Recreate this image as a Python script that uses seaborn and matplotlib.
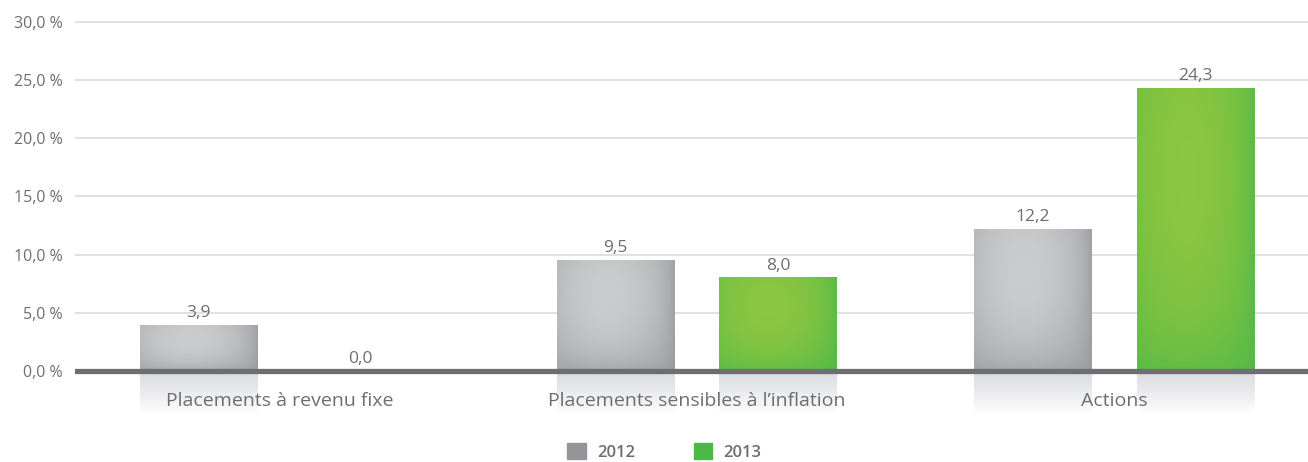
import numpy as np
import pandas as pd
import seaborn as sns
import matplotlib.pyplot as plt
from matplotlib.patches import Patch
from matplotlib.colors import to_rgb

# data
categories = ["Placements à revenu fixe", "Placements sensibles à l’inflation", "Actions"]
years = ["2012", "2013"]
v2012 = [3.9, 9.5, 12.2]
v2013 = [0.0, 8.0, 24.3]
yticks = [0, 5, 10, 15, 20, 25, 30]

df = pd.DataFrame({
    "cat": categories * 2,
    "year": ["2012"] * 3 + ["2013"] * 3,
    "val": v2012 + v2013,
})

sns.set_theme(style="white")
plt.rcParams["font.family"] = ["Open Sans", "DejaVu Sans"]
txt = "#6d6e71"

fig = plt.figure(figsize=(13.08, 4.62), dpi=100)
ax = fig.add_axes([75 / 1308, 44.5 / 462, 1 - 75 / 1308, 1 - 15 / 462 - 44.5 / 462])

sns.barplot(data=df, x="cat", y="val", hue="year", order=categories, hue_order=years,
            palette=["#939598", "#4db848"], width=0.78, gap=0.28, legend=False, ax=ax)


def grad(c_center, c_edge, nx=60, ny=60):
    xs = np.linspace(0, 1, nx)
    ys = np.linspace(0, 1, ny)
    fx = 1 - np.clip(np.abs(xs - 0.42) / 0.6, 0, 1) ** 1.8
    fy = 1 - np.clip(np.abs(ys - 0.3) / 0.75, 0, 1) ** 2
    f = np.outer(fy, fx) ** 0.5
    a = np.array(to_rgb(c_center))
    b = np.array(to_rgb(c_edge))
    return b + (a - b) * f[..., None]


cols = {0: ("#cbccce", "#939598"), 1: ("#8dc63f", "#4cb848")}
refl = np.linspace(0, 1, 50)
refl_img = np.ones((50, 2, 4))
refl_img[..., :3] = np.array(to_rgb("#d9dadd"))
refl_img[..., 3] = (1 - refl[:, None]) ** 0.9

for i, p in enumerate(list(ax.patches)):
    h = p.get_height()
    x0 = p.get_x()
    w = p.get_width()
    if h <= 0:
        continue
    p.set_facecolor("none")
    p.set_edgecolor("none")
    c = cols[i // 3]
    ax.imshow(grad(*c), extent=[x0, x0 + w, 0, h], aspect="auto", zorder=2, origin="upper")
    ax.imshow(refl_img, extent=[x0, x0 + w, -3.7, 0], aspect="auto", zorder=1, origin="upper")

# value labels
for j, cont in enumerate(ax.containers):
    vals = v2012 if j == 0 else v2013
    ax.bar_label(cont, labels=[f"{v:.1f}".replace(".", ",") for v in vals],
                 padding=3, color=txt, fontsize=12.5)

# grid and baseline
for t in yticks[1:]:
    ax.axhline(t, color="#dcdcdc", lw=1.2, zorder=0)
ax.axhline(0, color="#6d6e71", lw=3.8, zorder=3)

for k, c in enumerate(categories):
    ax.text(k, -2.55, c, ha="center", va="center", fontsize=14, color=txt, zorder=4)

ax.set_xlim(-0.49, 2.465)
ax.set_ylim(-4, 30.6)
ax.set_yticks(yticks)
ax.set_yticklabels([f"{t:.1f} %".replace(".", ",") for t in yticks], color=txt, fontsize=11.5)
ax.tick_params(axis="y", length=0, pad=9)
ax.set_xticks([])
ax.set_xlabel("")
ax.set_ylabel("")
sns.despine(ax=ax, left=True, bottom=True)

handles = [Patch(color="#939598"), Patch(color="#4db848")]
fig.legend(handles, years, loc="center", bbox_to_anchor=(0.508, 0.022), ncol=2,
           frameon=False, handlelength=1.1, handleheight=1.1, columnspacing=3.5,
           handletextpad=0.7, prop={"size": 12, "weight": "semibold"}, labelcolor=txt)

fig.savefig("out.png", dpi=100)
